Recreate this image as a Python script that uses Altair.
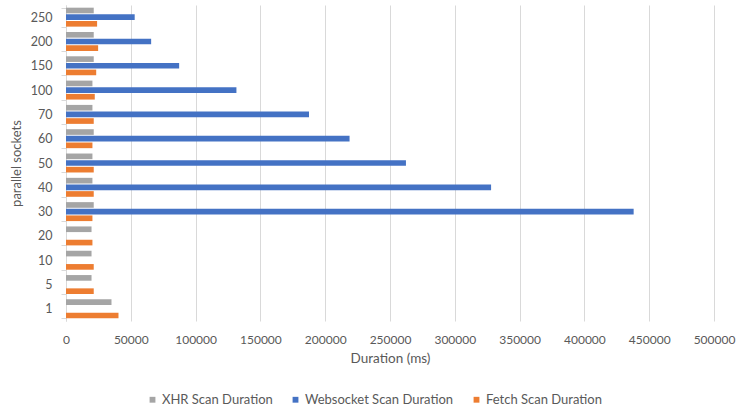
import altair as alt
import pandas as pd

categories = ["1", "5", "10", "20", "30", "40", "50", "60", "70", "100", "150", "200", "250"]
xhr = [35100, 19700, 19700, 19700, 21400, 20400, 20400, 21400, 20400, 20400, 21400, 21400, 21400]
websocket = [None, None, None, None, 438000, 328000, 262300, 218800, 187500, 131500, 87300, 65700, 53000]
fetch = [40500, 21400, 21400, 20400, 20400, 21400, 21400, 20400, 21400, 22200, 23300, 24800, 24000]

series = ["XHR Scan Duration", "Websocket Scan Duration", "Fetch Scan Duration"]
colors = ["#a5a5a5", "#4472c4", "#ed7d31"]
x_ticks = list(range(0, 500001, 50000))

rows = []
for name, vals in zip(series, [xhr, websocket, fetch]):
    for c, v in zip(categories, vals):
        if v is not None:
            rows.append({"sockets": c, "series": name, "value": v})
df = pd.DataFrame(rows)

FONT = "Lato"
TXT = "#595959"

chart = alt.Chart(df).mark_bar().encode(
    x=alt.X("value:Q",
            scale=alt.Scale(domain=[0, 500000], nice=False),
            axis=alt.Axis(values=x_ticks, format="d", title="Duration (ms)",
                          grid=True, gridColor="#d9d9d9", domain=False, ticks=False,
                          labelFlush=False, labelPadding=13, titlePadding=6,
                          labelFontSize=12, titleFontSize=13.5, labelColor=TXT, titleColor=TXT,
                          titleFontWeight="normal", labelFont=FONT, titleFont=FONT)),
    y=alt.Y("sockets:N", sort=categories[::-1],
            scale=alt.Scale(paddingInner=0.22, paddingOuter=0.11),
            axis=alt.Axis(title="parallel sockets", tickBand="extent", tickSize=5,
                          tickColor="#d9d9d9", domainColor="#d9d9d9", labelPadding=9,
                          labelFontSize=12.5, titleFontSize=13, labelColor=TXT, titleColor=TXT,
                          titleFontWeight="normal", labelFont=FONT, titleFont=FONT,
                          titlePadding=7)),
    yOffset=alt.YOffset("series:N", sort=series, scale=alt.Scale(domain=series, paddingInner=0.15)),
    color=alt.Color("series:N", sort=series,
                    scale=alt.Scale(domain=series, range=colors),
                    legend=alt.Legend(title=None, orient="none", direction="horizontal",
                                      legendX=80, legendY=388, symbolType="square",
                                      symbolSize=34, symbolStrokeWidth=0,
                                      labelFontSize=13, labelColor=TXT, labelFont=FONT,
                                      columnPadding=16, labelOffset=3)),
).properties(
    width=648, height=316,
    autosize=alt.AutoSizeParams(type="none"),
    padding={"left": 66, "top": 5, "right": 37, "bottom": 92},
).configure_view(stroke=None)

chart.save("out.html", embed_options={"renderer": "svg", "actions": False})
